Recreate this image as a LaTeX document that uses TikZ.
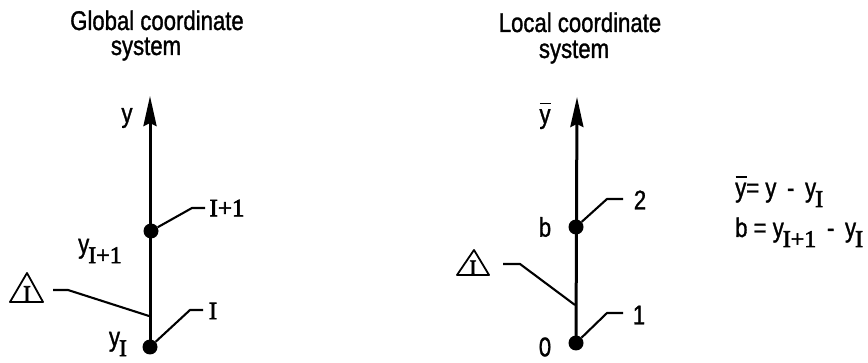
\documentclass[tikz,border=0pt]{standalone}
\usepackage{fontspec}
\setmainfont[FakeStretch=0.82,FakeBold=1.2]{Liberation Sans}
\newfontfamily\serif[FakeBold=2.5]{Liberation Serif}
\usetikzlibrary{arrows.meta,calc}
\newcommand\subs[1]{\kern-1pt\raisebox{-10pt}{\fontsize{24}{24}\selectfont\serif #1}}
\newcommand\ybar{\leavevmode\rlap{\kern0.5pt\rule[19pt]{11pt}{1.5pt}}y}
\begin{document}
\begin{tikzpicture}[x=1pt,y=-1pt,
  every node/.style={inner sep=0pt,font=\fontsize{27}{31}\selectfont},
  axis/.style={line width=3pt,-{Stealth[length=30pt,width=13pt,inset=3pt]}},
  dot/.style={circle,fill=black,minimum size=15pt},
  leader/.style={line width=2.1pt},
  tri/.style={line width=1.8pt,line join=round},
  sI/.style={font=\fontsize{25}{28}\selectfont\serif}]
\useasboundingbox (0,0) rectangle (868,363);

% ---------- Global ----------
\node[anchor=base] (gt1) at (157,30) {Global coordinate};
\node[anchor=base] (gt2) at (146,55) {system};

\coordinate (gtip) at (150,96);
\node[dot] (gd0) at (150,347) {};
\node[dot] (gd1) at (151,231) {};
\draw[axis] (gd0.center) -- (gtip);

\node (gy) at (127,118) {y};
\node (gyI1) at (100,251) {y\subs{I+1}};
\node (gyI) at (118,344) {y\subs{I}};

\node[sI] (gL1) at (227,208) {I+1};
\node[sI] (gL0) at (213,311) {I};
\coordinate (gb1) at (192,208);
\coordinate (ge1) at (205,208);
\coordinate (gb0) at (190,310);
\coordinate (ge0) at (203,310);
\draw[leader] (gd1) -- (gb1) -- (ge1);
\draw[leader] (gd0) -- (gb0) -- (ge0);

\node[anchor=base,font=\fontsize{24}{26}\selectfont\serif] (gtri) at (27,302) {I};
\draw[tri] ($(gtri.base)+(-17,0)$) -- ($(gtri.base)+(16,0)$) -- ($(gtri.base)+(0,-29)$) -- cycle;
\coordinate (gts) at (53,290);
\coordinate (gtb) at (68,290);
\coordinate (gte) at (149,316);
\draw[leader] (gts) -- (gtb) -- (gte);

% ---------- Local ----------
\node[anchor=base] (lt1) at (580,32) {Local coordinate};
\node[anchor=base] (lt2) at (574,58) {system};

\coordinate (ltip) at (577,97);
\node[dot] (ld0) at (576,343) {};
\node[dot] (ld1) at (576,227) {};
\draw[axis] (ld0.center) -- (ltip);

\node (lyb) at (545,116) {\ybar};
\node (lb) at (545,227) {b};
\node (l0) at (545,347) {0};
\node (l2) at (640,200) {2};
\node (l1) at (639,315) {1};
\coordinate (lb1) at (607,199);
\coordinate (le1) at (623,199);
\coordinate (lb0) at (607,313);
\coordinate (le0) at (623,313);
\draw[leader] (ld1) -- (lb1) -- (le1);
\draw[leader] (ld0) -- (lb0) -- (le0);

\node[anchor=base,font=\fontsize{22}{25}\selectfont\serif] (ltri) at (473,275) {I};
\draw[tri] ($(ltri.base)+(-16,0)$) -- ($(ltri.base)+(16,0)$) -- ($(ltri.base)+(1,-25)$) -- cycle;
\coordinate (lts) at (503,264);
\coordinate (ltb) at (520,264);
\coordinate (lte) at (575,305);
\draw[leader] (lts) -- (ltb) -- (lte);

% ---------- Equations ----------
\node[anchor=base west] (eq1) at (735,197) {\ybar= y\, -\, y\subs{I}};
\node[anchor=base west] (eq2) at (735,237) {b = y\subs{I+1}\, -\, y\subs{I}};
\end{tikzpicture}
\end{document}
